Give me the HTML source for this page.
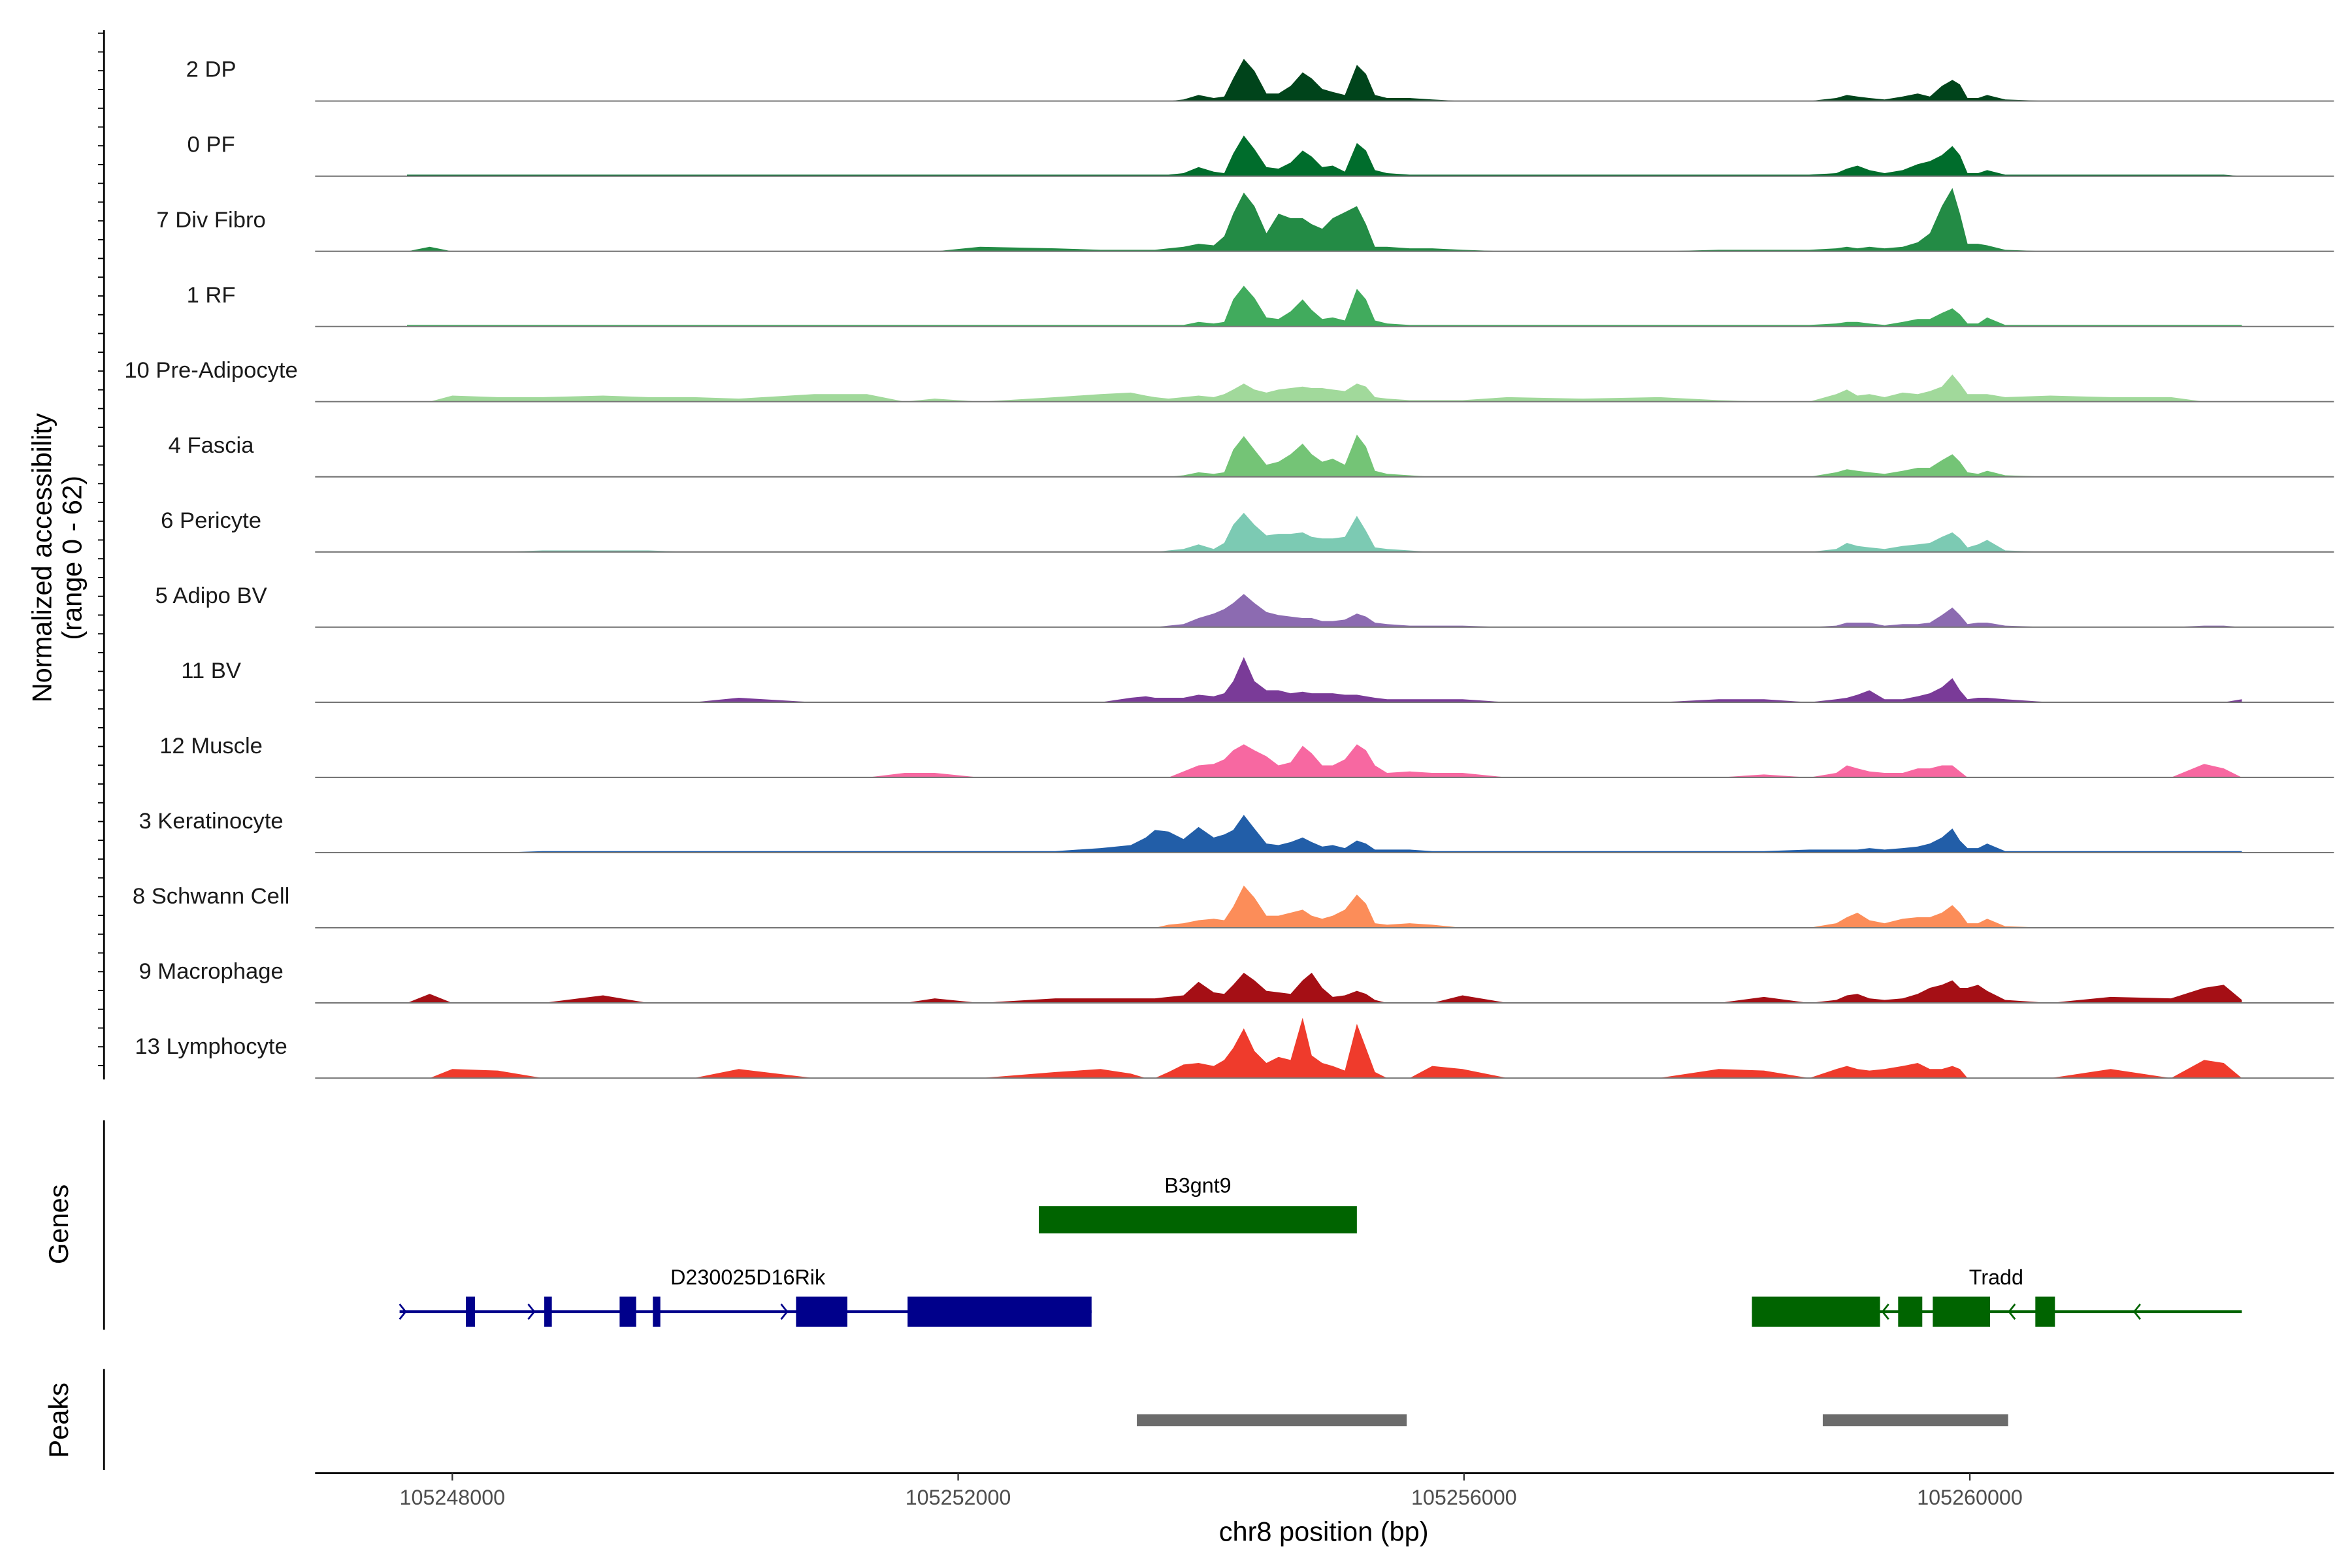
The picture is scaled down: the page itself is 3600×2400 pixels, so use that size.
<!DOCTYPE html>
<html><head><meta charset="utf-8"><style>
html,body{margin:0;padding:0;background:#fff}
svg{display:block}
text{font-family:"Liberation Sans",Arial,sans-serif}
</style></head><body>
<svg id="chart" width="3600" height="2400" viewBox="0 0 1560 1040" xmlns="http://www.w3.org/2000/svg">
<rect width="1560" height="1040" fill="#fff"/>
</svg>
<script>
// ---- data ----
const regionStart = 105246915;
const regionEnd = 105262879;
const xTicks = [105248000, 105252000, 105256000, 105260000];
const yMax = 48;
const trackNames = ["2 DP","0 PF","7 Div Fibro","1 RF","10 Pre-Adipocyte","4 Fascia","6 Pericyte","5 Adipo BV","11 BV","12 Muscle","3 Keratinocyte","8 Schwann Cell","9 Macrophage","13 Lymphocyte"];
const trackColors = ["#00441b","#006d2c","#238b45","#41ab5d","#a1d99b","#74c476","#7ccab3","#8c6bb1","#7a3b98","#f768a1","#225ea8","#fc8d59","#a50f15","#ef3b2c"];
const gridBp = [105247642,105247821,105248000,105248358,105248715,105249192,105249550,105249908,105250265,105250861,105251279,105251577,105251815,105252173,
105252769,105253126,105253365,105253484,105253556,105253663,105253782,
105253901,105254021,105254104,105254175,105254259,105254343,105254438,105254533,105254629,105254724,105254796,105254879,105254962,105255058,105255153,105255225,105255296,105255392,105255570,105255749,105255988,
105256345,105256942,105257538,105258014,105258372,105258730,
105258944,105259028,105259111,105259206,105259326,105259469,105259588,105259684,105259779,105259862,105259922,105259982,105260065,105260137,105260280,
105260637,105261114,105261591,105261853,105262008,105262151];
const cov2DP = [0,0,0,0,0,0,0,0,0,0,0,0,0,0, 0,0,0,0,0,0,1, 4,2,3,15,28,20,5,5,10,19,15,8,6,4,24,18,4,2,2,1,0, 0,0,0,0,0,0, 2,4,3,2,1,3,5,3,10,14,11,2,2,4,1, 0,0,0,0,0,0];
const cov0PF = [1,1,1,1,1,1,1,1,1,1,1,1,1,1, 1,1,1,1,1,1,2, 6,3,2,15,27,18,6,5,9,17,13,6,7,3,22,17,4,2,1,1,1, 1,1,1,1,1,1, 2,5,7,4,2,4,8,10,14,20,14,2,2,4,1, 1,1,1,1,1,0];
const cov7Div = [0,3,0,0,0,0,0,0,0,0,0,0,0,3, 2,1,1,1,1,2,3, 5,4,10,25,39,30,12,25,22,22,18,15,22,26,30,18,3,3,2,2,1, 0,0,0,1,1,1, 2,3,2,3,2,3,6,12,30,42,25,5,5,4,1, 0,0,0,0,0,0];
const cov1RF = [1,1,1,1,1,1,1,1,1,1,1,1,1,1, 1,1,1,1,1,1,1, 3,2,3,18,27,19,6,5,10,18,11,5,6,4,25,18,4,2,1,1,1, 1,1,1,1,1,1, 2,3,3,2,1,3,5,5,9,12,8,2,2,6,1, 1,1,1,1,1,1];
const cov10Pre = [0,0,4,3,3,4,3,3,2,5,5,0,2,0, 3,5,6,4,3,2,3, 4,3,5,8,12,8,6,8,9,10,9,9,8,7,12,10,3,2,1,1,1, 3,2,3,1,0,0, 5,8,4,5,3,6,5,7,10,18,12,5,5,5,3, 4,3,3,0,0,0];
const cov4Fas = [0,0,0,0,0,0,0,0,0,0,0,0,0,0, 0,0,0,0,0,0,1, 3,2,3,18,27,18,8,10,15,22,15,10,12,8,28,20,4,2,1,0,0, 0,0,0,0,0,0, 3,5,4,3,2,4,6,6,11,15,10,3,2,4,1, 0,0,0,0,0,0];
const cov6Per = [0,0,0,0,1,1,1,0,0,0,0,0,0,0, 0,0,0,0,0,1,2, 5,2,6,18,26,18,11,12,12,13,10,9,9,10,24,14,3,2,1,0,0, 0,0,0,0,0,0, 2,6,4,3,2,4,5,6,10,13,9,3,5,8,1, 0,0,0,0,0,0];
const cov5ABV = [0,0,0,0,0,0,0,0,0,0,0,0,0,0, 0,0,0,0,0,1,2, 6,9,12,16,22,16,10,8,7,6,6,4,4,5,9,7,3,2,1,1,1, 0,0,0,0,0,0, 1,3,3,3,1,2,2,3,8,13,8,2,3,3,1, 0,0,0,1,1,0];
const cov11BV = [0,0,0,0,0,0,0,0,3,0,0,0,0,0, 0,0,3,4,3,3,3, 5,4,6,14,30,14,8,8,6,7,6,6,6,5,5,4,3,2,2,2,2, 0,0,0,2,2,0, 2,3,5,8,2,2,4,6,10,16,8,2,3,3,2, 0,0,0,0,0,2];
const cov12Mus = [0,0,0,0,0,0,0,0,0,0,0,3,3,0, 0,0,0,0,0,0,4, 8,9,12,18,22,18,14,8,10,21,16,8,8,12,22,18,8,3,4,3,3, 0,0,0,0,2,0, 3,8,6,4,3,3,6,6,8,8,4,0,0,0,0, 0,0,0,9,6,0];
const cov3Ker = [0,0,0,0,1,1,1,1,1,1,1,1,1,1, 1,3,5,10,15,14,9, 17,10,12,15,25,16,6,5,7,10,7,4,5,3,8,6,2,2,2,1,1, 1,1,1,1,1,2, 2,2,2,3,2,3,4,6,10,16,8,3,3,6,1, 1,1,1,1,1,1];
const cov8Sch = [0,0,0,0,0,0,0,0,0,0,0,0,0,0, 0,0,0,0,0,2,3, 5,6,5,14,28,20,8,8,10,12,8,6,8,12,22,16,3,2,3,2,0, 0,0,0,0,0,0, 3,7,10,5,3,6,7,7,10,15,10,3,3,6,1, 0,0,0,0,0,0];
const cov9Mac = [0,6,0,0,0,5,0,0,0,0,0,0,3,0, 3,3,3,3,3,4,5, 14,7,6,12,20,15,8,7,6,15,20,10,4,5,8,6,2,0,0,0,5, 0,0,0,0,4,0, 2,5,6,3,2,3,6,10,12,15,10,10,12,8,2, 0,4,3,10,12,2];
const cov13Lym = [0,0,6,5,0,0,0,0,6,0,0,0,0,0, 4,6,3,0,0,4,9, 10,8,12,20,33,18,10,14,12,40,15,10,8,5,36,20,4,0,0,8,6, 0,0,0,6,5,0, 6,8,6,5,6,8,10,6,6,8,6,0,0,0,0, 0,6,0,12,10,0];
const coverage = [cov2DP,cov0PF,cov7Div,cov1RF,cov10Pre,cov4Fas,cov6Per,cov5ABV,cov11BV,cov12Mus,cov3Ker,cov8Sch,cov9Mac,cov13Lym];
// genes
const riktxStart = 105247583, riktxEnd = 105253055;
const rikExonStart = [105248107,105248727,105249323,105249586,105250718,105251600];
const rikExonEnd   = [105248179,105248787,105249454,105249645,105251124,105253055];
const rikArrows = [105247583,105248600,105250600];
const traddStart = 105258277, traddEnd = 105262151;
const traddExonStart = [105258277,105259433,105259707,105260518];
const traddExonEnd   = [105259290,105259624,105260160,105260673];
const traddArrows = [105259310,105260310,105261300];
const b3Start = 105252638, b3End = 105255153;
const peakStart = [105253413,105258837];
const peakEnd   = [105255547,105260303];

// ---- scales ----
const X0 = 209, X1 = 1548;
function xs(bp){ return X0 + (bp - regionStart) / (regionEnd - regionStart) * (X1 - X0); }
const base0 = 67, trackStep = 49.85, trackPx = 48;
function ys(i, v){ return base0 + i*trackStep - v / yMax * trackPx; }

const svg = document.getElementById('chart');
const NS = 'http://www.w3.org/2000/svg';
function mk(tag, attrs, parent){
  const e = document.createElementNS(NS, tag);
  for (const k in attrs) e.setAttribute(k, attrs[k]);
  (parent||svg).appendChild(e);
  return e;
}

// tracks
coverage.forEach((vals, i) => {
  const g = mk('g', {});
  
  
  const b = base0 + i*trackStep;
  let d = 'M' + xs(gridBp[0]).toFixed(2) + ' ' + b;
  vals.forEach((v, j) => { d += ' L' + xs(gridBp[j]).toFixed(2) + ' ' + ys(i, v).toFixed(2); });
  d += ' L' + xs(gridBp[gridBp.length-1]).toFixed(2) + ' ' + b + ' Z';
  const p = mk('path', {d: d, fill: trackColors[i], stroke: 'none'}, g);
  
  
  const l = mk('line', {x1: X0, x2: X1, y1: b, y2: b, stroke: '#777', 'stroke-width': 0.9}, g);
  
  
  const t = mk('text', {x: 140, y: b - 16, 'text-anchor': 'middle', 'font-size': 15, fill: '#1a1a1a'}, g);
  t.textContent = trackNames[i];
  
  
});

// left axis for tracks
const ax = mk('g', {});


mk('line', {x1: 69, x2: 69, y1: 20, y2: 716, stroke: '#000', 'stroke-width': 1.2}, ax);
for (let y = 22; y <= 716; y += 12.45) {
  mk('line', {x1: 65, x2: 69, y1: y, y2: y, stroke: '#000', 'stroke-width': 0.8}, ax);
}
const yt = mk('text', {x: 0, y: 0, 'font-size': 18, 'text-anchor': 'middle', transform: 'translate(34,370) rotate(-90)'});
yt.textContent = 'Normalized accessibility';


const yt2 = mk('text', {x: 0, y: 0, 'font-size': 18, 'text-anchor': 'middle', transform: 'translate(54,370) rotate(-90)'});
yt2.textContent = '(range 0 - 62)';



// genes panel
const gp = mk('g', {});


mk('line', {x1: 69, x2: 69, y1: 743, y2: 882, stroke: '#000', 'stroke-width': 1.2}, gp);
const gt = mk('text', {x: 0, y: 0, 'font-size': 18, 'text-anchor': 'middle', transform: 'translate(45,812) rotate(-90)'}, gp);
gt.textContent = 'Genes';



const b3 = mk('rect', {x: xs(b3Start), y: 800, width: xs(b3End) - xs(b3Start), height: 18, fill: '#006400'}, gp);


const b3l = mk('text', {x: (xs(b3Start)+xs(b3End))/2, y: 791, 'font-size': 14, 'text-anchor': 'middle'}, gp);
b3l.textContent = 'B3gnt9';



function drawGene(name, s, e, es, ee, arrows, color, dir, labelX){
  const g = mk('g', {}, gp);
  
  
  mk('line', {x1: xs(s), x2: xs(e), y1: 870, y2: 870, stroke: color, 'stroke-width': 2}, g);
  es.forEach((a, k) => { mk('rect', {x: xs(a), y: 860, width: Math.max(2, xs(ee[k]) - xs(a)), height: 20, fill: color}, g); });
  arrows.forEach(a => {
    const x = xs(a);
    const d = dir > 0 ? `M${x} 865 L${x+4} 870 L${x} 875` : `M${x+4} 865 L${x} 870 L${x+4} 875`;
    mk('path', {d: d, fill: 'none', stroke: color, 'stroke-width': 1.2}, g);
  });
  const t = mk('text', {x: labelX, y: 852, 'font-size': 14, 'text-anchor': 'middle'}, g);
  t.textContent = name;
  
  
}
drawGene('D230025D16Rik', riktxStart, riktxEnd, rikExonStart, rikExonEnd, rikArrows, '#00008b', 1, 496);
drawGene('Tradd', traddStart, traddEnd, traddExonStart, traddExonEnd, traddArrows, '#006400', -1, 1324);

// peaks panel
const pp = mk('g', {});


mk('line', {x1: 69, x2: 69, y1: 908, y2: 975, stroke: '#000', 'stroke-width': 1.2}, pp);
const pt = mk('text', {x: 0, y: 0, 'font-size': 18, 'text-anchor': 'middle', transform: 'translate(45,942) rotate(-90)'}, pp);
pt.textContent = 'Peaks';


peakStart.forEach((s, k) => {
  const r = mk('rect', {x: xs(s), y: 938, width: xs(peakEnd[k]) - xs(s), height: 8, fill: '#6b6b6b'}, pp);
  
  
});

// x axis
const xa = mk('g', {});


mk('line', {x1: X0, x2: X1, y1: 977, y2: 977, stroke: '#000', 'stroke-width': 1.2}, xa);
xTicks.forEach(t => {
  const x = xs(t);
  mk('line', {x1: x, x2: x, y1: 977, y2: 982, stroke: '#333', 'stroke-width': 1}, xa);
  const tl = mk('text', {x: x, y: 998, 'font-size': 14, 'text-anchor': 'middle', fill: '#4d4d4d'}, xa);
  tl.textContent = String(t);
  
  
});
const xt = mk('text', {x: 878, y: 1022, 'font-size': 18, 'text-anchor': 'middle'}, xa);
xt.textContent = 'chr8 position (bp)';


</script>
</body></html>
